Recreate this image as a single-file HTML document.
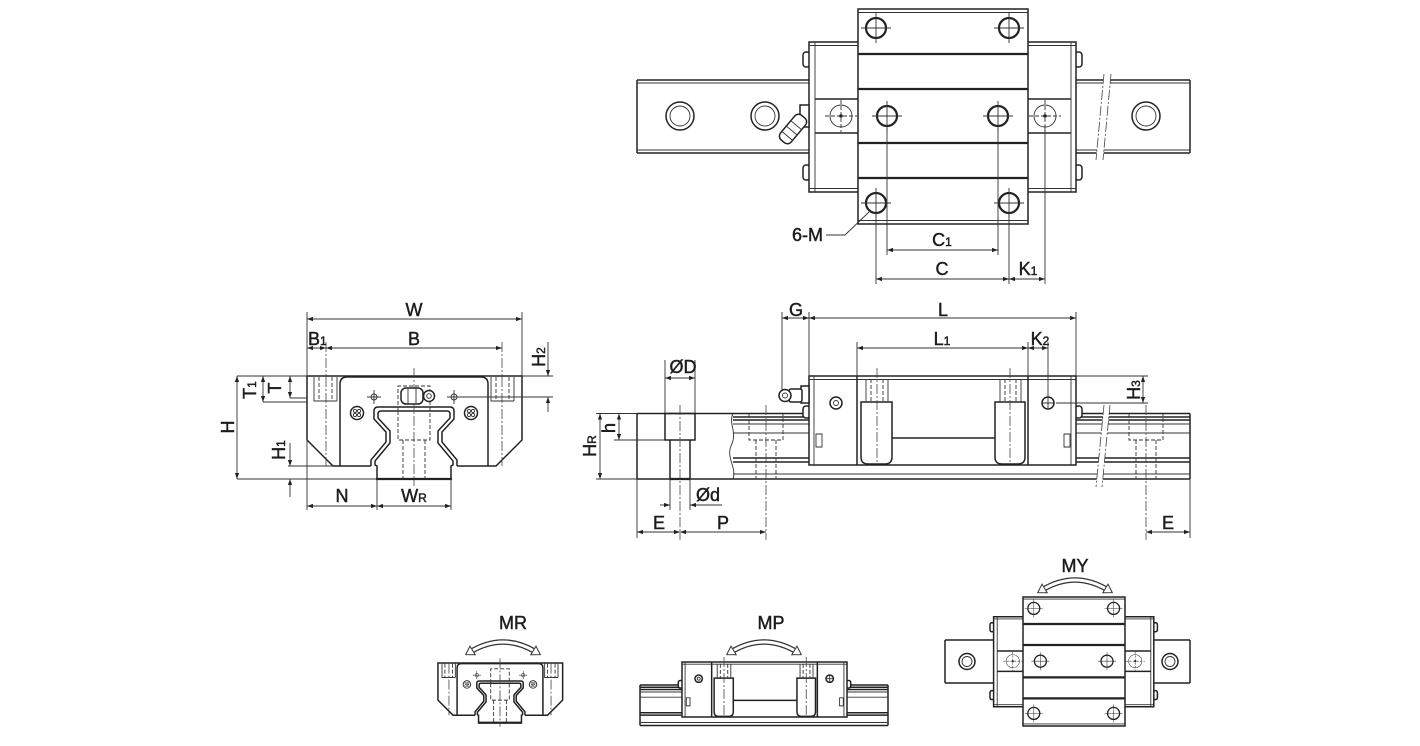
<!DOCTYPE html>
<html><head><meta charset="utf-8">
<style>
html,body{margin:0;padding:0;background:#fff;}
svg{display:block}
text{font-family:"Liberation Sans",sans-serif;font-size:18px;fill:#1c1c1c;stroke:#1c1c1c;stroke-width:0.45}
.o{fill:none;stroke:#222;stroke-width:1.5}
.t{fill:none;stroke:#333;stroke-width:0.9}
.k{fill:none;stroke:#222;stroke-width:2.2}
.w{fill:#fff;stroke:#222;stroke-width:1.5}
.d{fill:none;stroke:#333;stroke-width:0.9;stroke-dasharray:4 2}
.c{fill:none;stroke:#444;stroke-width:0.8;stroke-dasharray:10 2 2 2}
.dim{fill:none;stroke:#333;stroke-width:0.9;marker-start:url(#ar);marker-end:url(#ar)}
.ns *{vector-effect:non-scaling-stroke}
</style></head><body>
<svg width="1420" height="746" viewBox="0 0 1420 746" xmlns="http://www.w3.org/2000/svg">
<defs>
<marker id="ar" viewBox="0 0 10 10" refX="10" refY="5" markerWidth="7" markerHeight="6" markerUnits="userSpaceOnUse" orient="auto-start-reverse"><path d="M0,1.5 L10,5 L0,8.5z" fill="#222"/></marker>
<g id="fh"><circle r="10" class="k"/><path d="M-15 0H15M0 -15V15" class="t"/></g>
<g id="eh"><circle r="11" class="t"/><path d="M-16 0H16M0 -16V16" class="d"/><circle r="1.8" fill="#222"/></g>
<g id="rh"><circle r="14" class="o"/><circle r="10" class="t"/></g>
<g id="cs"><path d="M-7 0H7M0 -7V7" class="t"/><circle r="3" class="t"/></g>
<g id="sc"><circle r="6.5" class="o"/><circle cx="-2" cy="-2" r="1.6" class="t"/><circle cx="2" cy="-2" r="1.6" class="t"/><circle cx="-2" cy="2" r="1.6" class="t"/><circle cx="2" cy="2" r="1.6" class="t"/></g>
<g id="arc"><path d="M-33 0Q0 -20 33 0" fill="none" stroke="#333" stroke-width="5.5"/><path d="M-33 0Q0 -20 33 0" fill="none" stroke="#fff" stroke-width="3"/><polygon points="-37.3,2.6 -27.8,2.7 -33,-5.9" fill="#fff" stroke="#333" stroke-width="1"/><polygon points="37.3,2.6 27.8,2.7 33,-5.9" fill="#fff" stroke="#333" stroke-width="1"/></g>

<g id="tb" class="ns">
 <rect x="803" y="52" width="7" height="15" rx="3" class="w"/>
 <rect x="803" y="165" width="7" height="15" rx="3" class="w"/>
 <rect x="1075" y="52" width="7" height="15" rx="3" class="w"/>
 <rect x="1075" y="165" width="7" height="15" rx="3" class="w"/>
 <rect x="809" y="42" width="267" height="150" class="w"/>
 <path d="M809 45.5H1076M809 188.5H1076M815 42V192M1071 42V192" class="t"/>
 <path d="M815 99H858M815 133H858M1028 99H1071M1028 133H1071" class="o"/>
 <rect x="858" y="9" width="170" height="215" class="w"/>
 <path d="M858 12.5H1028M858 220.5H1028" class="t"/>
 <path d="M858 54H1028M858 89H1028M858 143H1028M858 178H1028" class="k"/>
 <use href="#fh" x="876" y="28"/><use href="#fh" x="1009" y="28"/>
 <use href="#fh" x="876" y="203"/><use href="#fh" x="1009" y="203"/>
 <use href="#fh" x="887" y="116"/><use href="#fh" x="998" y="116"/>
 <use href="#eh" x="841" y="116"/><use href="#eh" x="1045" y="116"/>
</g>

<g id="sb" class="ns">
 <rect x="803" y="406" width="7" height="12" rx="3" class="w"/>
 <rect x="1075" y="406" width="7" height="12" rx="3" class="w"/>
 <rect x="809" y="376" width="267" height="89" class="w"/>
 <path d="M809 379.5H1076M814 376V465M1071 376V465" class="t"/>
 <path d="M857 376V465M1028 376V465" class="o"/>
 <path d="M861 402H892V457Q892 464 885 464H868Q861 464 861 457Z" class="o"/>
 <path d="M995 402H1025V457Q1025 464 1018 464H1002Q995 464 995 457Z" class="o"/>
 <path d="M892 438H995" class="o"/>
 <path d="M866 379V402M888 379V402M1000 379V402M1021 379V402" class="t"/>
 <path d="M871 379V402M883 379V402M1005 379V402M1016 379V402" class="d"/>
 <path d="M877 368V463M1010 368V463" class="c"/>
 <circle cx="836" cy="403" r="6" class="o"/><circle cx="836" cy="403" r="2.5" class="t"/>
 <circle cx="1048" cy="403" r="6" class="o"/><path d="M1042 403H1054M1048 397V409" class="t"/>
 <rect x="816" y="434" width="6" height="13" class="t"/>
 <rect x="1064" y="434" width="6" height="13" class="t"/>
</g>

<g id="fv" class="ns">
 <path d="M371 466H333L307 440V376H522V440L496 466H457" class="o"/>
 <path d="M340 466V384Q340 377 347 377H481Q488 377 488 384V466" class="o"/>
 <path d="M371 466V460L386 442V432L374 419V411Q374 407 378 407H450Q454 407 454 411V419L442 432V442L457 460V466" class="o"/>
 <path d="M377 479V466L375 465V461L390 443V431L378 418V414Q378 411 381 411H447Q450 411 450 414V418L438 431V443L453 461V465L451 466V479Z" class="w"/>
 <path d="M376 479H452" class="k"/>
 <path d="M314 377V401H337M337 377V401M491 377V401H514M514 377V401" class="t"/>
 <path d="M319 377V401M332 377V401M496 377V401M509 377V401" class="d"/>
 <path d="M326 377V466M502 377V466" class="c"/>
 <use href="#cs" x="374" y="397"/><use href="#cs" x="454" y="397"/>
 <use href="#sc" x="357" y="413"/><use href="#sc" x="471" y="413"/>
 <path d="M398 411V386H430V411" class="d"/>
 <path d="M398 411V440H430V411M403 440V479M425 440V479" class="d"/>
 <path d="M414 368V486" class="c"/>
</g>
</defs>

<!-- ================= TOP VIEW ================= -->
<path d="M637 80H1190M637 153H1190M637 80V153M1190 80V153" class="o"/>
<path d="M637 83H1190M637 150H1190" class="t"/>
<use href="#rh" x="680" y="116"/><use href="#rh" x="765" y="116"/><use href="#rh" x="1146" y="116"/>
<polygon points="1104,74 1111,74 1103,160 1096,160" fill="#fff"/>
<path d="M1104 74L1096 160M1111 74L1103 160" class="c"/>
<use href="#tb"/>
<rect x="800" y="105" width="9" height="22" class="w"/>
<g transform="rotate(-50 793 129)">
 <rect x="777" y="122" width="32" height="14" rx="5" class="w"/>
 <path d="M784 122V136M791 122V136M798 122V136" class="t"/>
</g>
<path d="M876 214V284M1009 214V284M887 128V255M998 128V255M1045 128V284" class="t"/>
<line x1="887" y1="250" x2="998" y2="250" class="dim"/>
<line x1="876" y1="279" x2="1009" y2="279" class="dim"/>
<line x1="1009" y1="279" x2="1045" y2="279" class="dim"/>
<path d="M869 212L845 235H826" class="t"/>
<text x="823" y="241" text-anchor="end">6-M</text>
<text x="942" y="246" text-anchor="middle">C<tspan font-size="12">1</tspan></text>
<text x="942" y="275" text-anchor="middle">C</text>
<text x="1028" y="275" text-anchor="middle">K<tspan font-size="12">1</tspan></text>

<!-- ================= FRONT VIEW ================= -->
<use href="#fv"/>
<rect x="401" y="388" width="22" height="16" rx="5" class="w"/>
<path d="M408 388V404M416 388V404" class="t"/>
<circle cx="429" cy="396" r="5.5" class="w"/><circle cx="429" cy="396" r="2.3" class="t"/>
<path d="M307 312V376M522 312V376" class="t"/>
<line x1="307" y1="319" x2="522" y2="319" class="dim"/>
<path d="M326 342V377M502 342V377" class="c"/>
<line x1="326" y1="348" x2="502" y2="348" class="dim"/>
<line x1="307" y1="348" x2="326" y2="348" class="dim"/>
<path d="M522 376H553M460 397H553" class="t"/>
<line x1="548" y1="342" x2="548" y2="376" marker-end="url(#ar)" class="t"/>
<line x1="548" y1="412" x2="548" y2="397" marker-end="url(#ar)" class="t"/>
<path d="M237 376H307" class="t"/>
<line x1="263" y1="376" x2="263" y2="402" class="dim"/>
<path d="M263 402H307" class="t"/>
<line x1="290" y1="376" x2="290" y2="398" class="dim"/>
<path d="M290 398H307" class="t"/>
<line x1="237" y1="376" x2="237" y2="479" class="dim"/>
<path d="M237 479H377M288 466H333" class="t"/>
<line x1="290" y1="443" x2="290" y2="466" marker-end="url(#ar)" class="t"/>
<line x1="290" y1="497" x2="290" y2="479" marker-end="url(#ar)" class="t"/>
<path d="M307 440V510M377 479V510M451 479V510" class="t"/>
<line x1="307" y1="506" x2="377" y2="506" class="dim"/>
<line x1="377" y1="506" x2="451" y2="506" class="dim"/>
<text x="414" y="316" text-anchor="middle">W</text>
<text x="308" y="345">B<tspan font-size="12">1</tspan></text>
<text x="414" y="345" text-anchor="middle">B</text>
<text x="545" y="357" text-anchor="middle" transform="rotate(-90 545 357)">H<tspan font-size="12">2</tspan></text>
<text x="256" y="390" text-anchor="middle" transform="rotate(-90 256 390)">T<tspan font-size="12">1</tspan></text>
<text x="281" y="388" text-anchor="middle" transform="rotate(-90 281 388)">T</text>
<text x="234" y="427" text-anchor="middle" transform="rotate(-90 234 427)">H</text>
<text x="285" y="450" text-anchor="middle" transform="rotate(-90 285 450)">H<tspan font-size="12">1</tspan></text>
<text x="342" y="502" text-anchor="middle">N</text>
<text x="414" y="502" text-anchor="middle">W<tspan font-size="12">R</tspan></text>

<!-- ================= SIDE VIEW ================= -->
<path d="M637 413.5H733M637 479H733M637 413.5V479" class="o"/>
<path d="M733 413.5C728 424 738 432 731 446C726 458 737 468 733 479" class="t"/>
<path d="M733 413.5H1190M733 417H1190M733 420H1190M733 458H1190M733 462H1190M733 479H1190M1190 413.5V479" class="o"/>
<path d="M733 424H1190M733 433H1190M733 474H1190" class="t"/>
<rect x="665" y="413.5" width="30" height="26.5" class="o"/>
<path d="M670 440V479M690 440V479" class="o"/>
<path d="M670 479H690" class="k"/>
<path d="M680 405V540" class="c"/>
<path d="M749 414V440H783V414M756 440V479M776 440V479" class="d"/>
<path d="M766 405V540" class="c"/>
<path d="M1129 414V440H1163V414M1136 440V479M1156 440V479" class="d"/>
<path d="M1146 405V540" class="c"/>
<polygon points="1104,405 1110,405 1102,487 1096,487" fill="#fff"/>
<path d="M1104 405L1096 487M1110 405L1102 487" class="c"/>
<use href="#sb"/>
<rect x="801" y="386" width="8" height="17" class="w"/>
<rect x="789" y="389" width="13" height="13" rx="2" class="w"/>
<circle cx="785" cy="395.5" r="6" class="w"/><circle cx="785" cy="395.5" r="2.5" class="t"/>
<path d="M809 312V376M1076 312V376M782 312V390" class="t"/>
<line x1="782" y1="318" x2="809" y2="318" class="dim"/>
<line x1="809" y1="318" x2="1076" y2="318" class="dim"/>
<path d="M857 342V376M1028 342V376M1048 342V397" class="t"/>
<line x1="857" y1="348" x2="1028" y2="348" class="dim"/>
<line x1="1028" y1="348" x2="1048" y2="348" class="dim"/>
<path d="M1076 376H1148M1056 403H1148" class="t"/>
<line x1="1143" y1="376" x2="1143" y2="403" class="dim"/>
<path d="M596 413.5H637M596 479H637M614 440H665" class="t"/>
<line x1="600" y1="413.5" x2="600" y2="479" class="dim"/>
<line x1="619" y1="413.5" x2="619" y2="440" class="dim"/>
<path d="M665 360V413M695 360V413" class="t"/>
<line x1="665" y1="378" x2="695" y2="378" class="dim"/>
<path d="M670 479V510M690 479V510" class="t"/>
<line x1="660" y1="505" x2="670" y2="505" marker-end="url(#ar)" class="t"/>
<line x1="722" y1="505" x2="690" y2="505" marker-end="url(#ar)" class="t"/>
<path d="M637 479V538M1190 479V538" class="t"/>
<line x1="637" y1="532" x2="680" y2="532" class="dim"/>
<line x1="680" y1="532" x2="766" y2="532" class="dim"/>
<line x1="1146" y1="532" x2="1190" y2="532" class="dim"/>
<text x="796" y="316" text-anchor="middle">G</text>
<text x="943" y="316" text-anchor="middle">L</text>
<text x="942" y="345" text-anchor="middle">L<tspan font-size="12">1</tspan></text>
<text x="1040" y="345" text-anchor="middle">K<tspan font-size="12">2</tspan></text>
<text x="1140" y="390" text-anchor="middle" transform="rotate(-90 1140 390)">H<tspan font-size="12">3</tspan></text>
<text x="683" y="373" text-anchor="middle">ØD</text>
<text x="615" y="428" text-anchor="middle" transform="rotate(-90 615 428)">h</text>
<text x="596" y="446" text-anchor="middle" transform="rotate(-90 596 446)">H<tspan font-size="12">R</tspan></text>
<text x="708" y="501" text-anchor="middle">Ød</text>
<text x="659" y="529" text-anchor="middle">E</text>
<text x="723" y="529" text-anchor="middle">P</text>
<text x="1168" y="529" text-anchor="middle">E</text>

<!-- ================= MR ================= -->
<use href="#fv" transform="translate(500 663) scale(0.58) translate(-414 -376)"/>
<use href="#arc" transform="translate(503 652)"/>
<text x="513" y="629" text-anchor="middle">MR</text>

<!-- ================= MP ================= -->
<path d="M640 685H888M640 687.3H888M640 689.5H888M640 712.7H888M640 715.1H888M640 725.5H888M640 685V725.5M888 685V725.5" class="o"/>
<path d="M640 692H888M640 697.2H888M640 722.5H888" class="t"/>
<use href="#sb" transform="translate(682 662) scale(0.618) translate(-809 -376)"/>
<use href="#arc" transform="translate(764 652)"/>
<text x="771" y="629" text-anchor="middle">MP</text>

<!-- ================= MY ================= -->
<path d="M945 640H1190M945 683H1190M945 640V683M1190 640V683" class="o"/>
<circle cx="967" cy="661.5" r="8" class="o"/><circle cx="967" cy="661.5" r="5" class="t"/>
<circle cx="1170" cy="661.5" r="8" class="o"/><circle cx="1170" cy="661.5" r="5" class="t"/>
<use href="#tb" transform="translate(1023 597) scale(0.6) translate(-858 -9)"/>
<use href="#arc" transform="translate(1075 590)"/>
<text x="1075" y="572" text-anchor="middle">MY</text>
</svg>
</body></html>
